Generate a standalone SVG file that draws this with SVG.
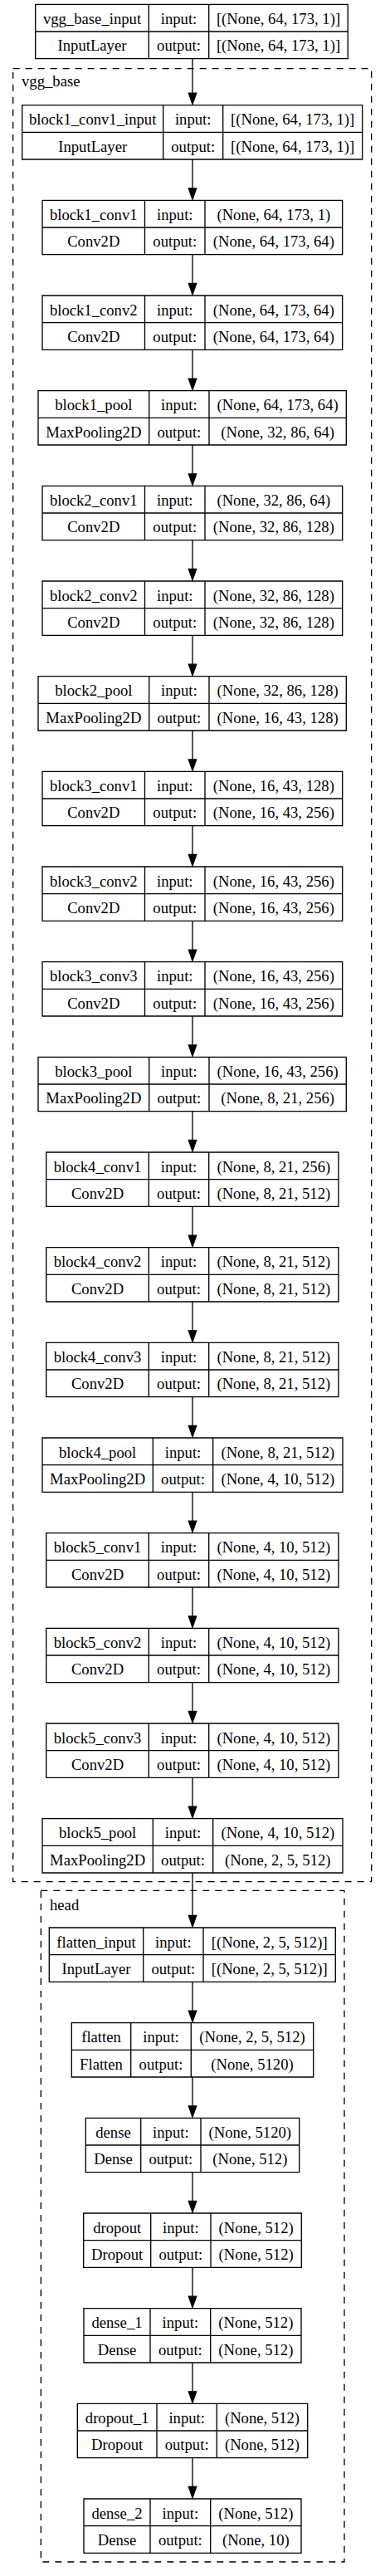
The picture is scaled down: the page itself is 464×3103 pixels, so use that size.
<svg xmlns="http://www.w3.org/2000/svg" width="464" height="3103" viewBox="0 0 464 3103">
<style>
.box{fill:none;stroke:#000;stroke-width:1.33}
.cl{fill:none;stroke:#000;stroke-width:1.33;stroke-dasharray:8,7}
text{font-family:"Liberation Serif","Times New Roman",serif;font-size:18.67px;fill:#000;text-anchor:middle}
.lbl{text-anchor:start}
.edge{fill:none;stroke:#000;stroke-width:1.33}
</style>
<defs>
<marker id="ah" markerUnits="userSpaceOnUse" viewBox="-2 -7 18 14" markerWidth="18" markerHeight="14" refX="0" refY="0" orient="auto" overflow="visible"><path d="M0,-4.67L13.33,0L0,4.67Z" fill="#000" stroke="#000" stroke-width="1.33"/></marker>
</defs>
<rect width="464" height="3103" fill="#fff"/>
<g id="cluster_vgg_base"><rect class="cl" x="15.67" y="82.67" width="432" height="2184"/><text class="lbl" x="26" y="103.5">vgg_base</text></g>
<g id="cluster_head"><rect class="cl" x="49.33" y="2277.33" width="365.67" height="808.67"/><text class="lbl" x="60" y="2301">head</text></g>

<g id="n_vgg_base_input"><path class="box" d="M42.7,5.33H419.3V70.67H42.7ZM42.7,38H419.3M179.3,5.33V70.67M251.7,5.33V70.67"/>
<text x="111" y="29.13">vgg_base_input</text><text x="215.5" y="29.13">input:</text><text x="335.5" y="29.13">[(None, 64, 173, 1)]</text>
<text x="111" y="61.33">InputLayer</text><text x="215.5" y="61.33">output:</text><text x="335.5" y="61.33">[(None, 64, 173, 1)]</text></g>

<g id="n_block1_conv1_input"><path class="box" d="M26.7,126.67H436.7V192H26.7ZM26.7,159.33H436.7M196.7,126.67V192M268.7,126.67V192"/>
<text x="111.7" y="150.47">block1_conv1_input</text><text x="232.7" y="150.47">input:</text><text x="352.7" y="150.47">[(None, 64, 173, 1)]</text>
<text x="111.7" y="182.67">InputLayer</text><text x="232.7" y="182.67">output:</text><text x="352.7" y="182.67">[(None, 64, 173, 1)]</text></g>

<g id="n_block1_conv1"><path class="box" d="M51,241.33H412.7V306.67H51ZM51,274H412.7M174.5,241.33V306.67M247,241.33V306.67"/>
<text x="112.75" y="265.13">block1_conv1</text><text x="210.75" y="265.13">input:</text><text x="329.85" y="265.13">(None, 64, 173, 1)</text>
<text x="112.75" y="297.33">Conv2D</text><text x="210.75" y="297.33">output:</text><text x="329.85" y="297.33">(None, 64, 173, 64)</text></g>

<g id="n_block1_conv2"><path class="box" d="M51,356H412.7V421.33H51ZM51,388.67H412.7M174.5,356V421.33M247,356V421.33"/>
<text x="112.75" y="379.8">block1_conv2</text><text x="210.75" y="379.8">input:</text><text x="329.85" y="379.8">(None, 64, 173, 64)</text>
<text x="112.75" y="412">Conv2D</text><text x="210.75" y="412">output:</text><text x="329.85" y="412">(None, 64, 173, 64)</text></g>

<g id="n_block1_pool"><path class="box" d="M46,470.67H417.3V536H46ZM46,503.33H417.3M179.7,470.67V536M252,470.67V536"/>
<text x="112.85" y="494.47">block1_pool</text><text x="215.85" y="494.47">input:</text><text x="334.65" y="494.47">(None, 64, 173, 64)</text>
<text x="112.85" y="526.67">MaxPooling2D</text><text x="215.85" y="526.67">output:</text><text x="334.65" y="526.67">(None, 32, 86, 64)</text></g>

<g id="n_block2_conv1"><path class="box" d="M51,585.33H412.7V650.67H51ZM51,618H412.7M174.5,585.33V650.67M247,585.33V650.67"/>
<text x="112.75" y="609.13">block2_conv1</text><text x="210.75" y="609.13">input:</text><text x="329.85" y="609.13">(None, 32, 86, 64)</text>
<text x="112.75" y="641.33">Conv2D</text><text x="210.75" y="641.33">output:</text><text x="329.85" y="641.33">(None, 32, 86, 128)</text></g>

<g id="n_block2_conv2"><path class="box" d="M51,700H412.7V765.33H51ZM51,732.67H412.7M174.5,700V765.33M247,700V765.33"/>
<text x="112.75" y="723.8">block2_conv2</text><text x="210.75" y="723.8">input:</text><text x="329.85" y="723.8">(None, 32, 86, 128)</text>
<text x="112.75" y="756">Conv2D</text><text x="210.75" y="756">output:</text><text x="329.85" y="756">(None, 32, 86, 128)</text></g>

<g id="n_block2_pool"><path class="box" d="M46,814.67H417.3V880H46ZM46,847.33H417.3M179.7,814.67V880M252,814.67V880"/>
<text x="112.85" y="838.47">block2_pool</text><text x="215.85" y="838.47">input:</text><text x="334.65" y="838.47">(None, 32, 86, 128)</text>
<text x="112.85" y="870.67">MaxPooling2D</text><text x="215.85" y="870.67">output:</text><text x="334.65" y="870.67">(None, 16, 43, 128)</text></g>

<g id="n_block3_conv1"><path class="box" d="M51,929.33H412.7V994.67H51ZM51,962H412.7M174.5,929.33V994.67M247,929.33V994.67"/>
<text x="112.75" y="953.13">block3_conv1</text><text x="210.75" y="953.13">input:</text><text x="329.85" y="953.13">(None, 16, 43, 128)</text>
<text x="112.75" y="985.33">Conv2D</text><text x="210.75" y="985.33">output:</text><text x="329.85" y="985.33">(None, 16, 43, 256)</text></g>

<g id="n_block3_conv2"><path class="box" d="M51,1044H412.7V1109.33H51ZM51,1076.67H412.7M174.5,1044V1109.33M247,1044V1109.33"/>
<text x="112.75" y="1067.8">block3_conv2</text><text x="210.75" y="1067.8">input:</text><text x="329.85" y="1067.8">(None, 16, 43, 256)</text>
<text x="112.75" y="1100">Conv2D</text><text x="210.75" y="1100">output:</text><text x="329.85" y="1100">(None, 16, 43, 256)</text></g>

<g id="n_block3_conv3"><path class="box" d="M51,1158.67H412.7V1224H51ZM51,1191.33H412.7M174.5,1158.67V1224M247,1158.67V1224"/>
<text x="112.75" y="1182.47">block3_conv3</text><text x="210.75" y="1182.47">input:</text><text x="329.85" y="1182.47">(None, 16, 43, 256)</text>
<text x="112.75" y="1214.67">Conv2D</text><text x="210.75" y="1214.67">output:</text><text x="329.85" y="1214.67">(None, 16, 43, 256)</text></g>

<g id="n_block3_pool"><path class="box" d="M46,1273.33H417.3V1338.67H46ZM46,1306H417.3M179.7,1273.33V1338.67M252,1273.33V1338.67"/>
<text x="112.85" y="1297.13">block3_pool</text><text x="215.85" y="1297.13">input:</text><text x="334.65" y="1297.13">(None, 16, 43, 256)</text>
<text x="112.85" y="1329.33">MaxPooling2D</text><text x="215.85" y="1329.33">output:</text><text x="334.65" y="1329.33">(None, 8, 21, 256)</text></g>

<g id="n_block4_conv1"><path class="box" d="M55.7,1388H408V1453.33H55.7ZM55.7,1420.67H408M179.3,1388V1453.33M251.7,1388V1453.33"/>
<text x="117.5" y="1411.8">block4_conv1</text><text x="215.5" y="1411.8">input:</text><text x="329.85" y="1411.8">(None, 8, 21, 256)</text>
<text x="117.5" y="1444">Conv2D</text><text x="215.5" y="1444">output:</text><text x="329.85" y="1444">(None, 8, 21, 512)</text></g>

<g id="n_block4_conv2"><path class="box" d="M55.7,1502.67H408V1568H55.7ZM55.7,1535.33H408M179.3,1502.67V1568M251.7,1502.67V1568"/>
<text x="117.5" y="1526.47">block4_conv2</text><text x="215.5" y="1526.47">input:</text><text x="329.85" y="1526.47">(None, 8, 21, 512)</text>
<text x="117.5" y="1558.67">Conv2D</text><text x="215.5" y="1558.67">output:</text><text x="329.85" y="1558.67">(None, 8, 21, 512)</text></g>

<g id="n_block4_conv3"><path class="box" d="M55.7,1617.33H408V1682.67H55.7ZM55.7,1650H408M179.3,1617.33V1682.67M251.7,1617.33V1682.67"/>
<text x="117.5" y="1641.13">block4_conv3</text><text x="215.5" y="1641.13">input:</text><text x="329.85" y="1641.13">(None, 8, 21, 512)</text>
<text x="117.5" y="1673.33">Conv2D</text><text x="215.5" y="1673.33">output:</text><text x="329.85" y="1673.33">(None, 8, 21, 512)</text></g>

<g id="n_block4_pool"><path class="box" d="M51,1732H413V1797.33H51ZM51,1764.67H413M184.3,1732V1797.33M256.7,1732V1797.33"/>
<text x="117.65" y="1755.8">block4_pool</text><text x="220.5" y="1755.8">input:</text><text x="334.85" y="1755.8">(None, 8, 21, 512)</text>
<text x="117.65" y="1788">MaxPooling2D</text><text x="220.5" y="1788">output:</text><text x="334.85" y="1788">(None, 4, 10, 512)</text></g>

<g id="n_block5_conv1"><path class="box" d="M55.7,1846.67H408V1912H55.7ZM55.7,1879.33H408M179.3,1846.67V1912M251.7,1846.67V1912"/>
<text x="117.5" y="1870.47">block5_conv1</text><text x="215.5" y="1870.47">input:</text><text x="329.85" y="1870.47">(None, 4, 10, 512)</text>
<text x="117.5" y="1902.67">Conv2D</text><text x="215.5" y="1902.67">output:</text><text x="329.85" y="1902.67">(None, 4, 10, 512)</text></g>

<g id="n_block5_conv2"><path class="box" d="M55.7,1961.33H408V2026.67H55.7ZM55.7,1994H408M179.3,1961.33V2026.67M251.7,1961.33V2026.67"/>
<text x="117.5" y="1985.13">block5_conv2</text><text x="215.5" y="1985.13">input:</text><text x="329.85" y="1985.13">(None, 4, 10, 512)</text>
<text x="117.5" y="2017.33">Conv2D</text><text x="215.5" y="2017.33">output:</text><text x="329.85" y="2017.33">(None, 4, 10, 512)</text></g>

<g id="n_block5_conv3"><path class="box" d="M55.7,2076H408V2141.33H55.7ZM55.7,2108.67H408M179.3,2076V2141.33M251.7,2076V2141.33"/>
<text x="117.5" y="2099.8">block5_conv3</text><text x="215.5" y="2099.8">input:</text><text x="329.85" y="2099.8">(None, 4, 10, 512)</text>
<text x="117.5" y="2132">Conv2D</text><text x="215.5" y="2132">output:</text><text x="329.85" y="2132">(None, 4, 10, 512)</text></g>

<g id="n_block5_pool"><path class="box" d="M51,2190.67H413V2256H51ZM51,2223.33H413M184.3,2190.67V2256M256.7,2190.67V2256"/>
<text x="117.65" y="2214.47">block5_pool</text><text x="220.5" y="2214.47">input:</text><text x="334.85" y="2214.47">(None, 4, 10, 512)</text>
<text x="117.65" y="2246.67">MaxPooling2D</text><text x="220.5" y="2246.67">output:</text><text x="334.85" y="2246.67">(None, 2, 5, 512)</text></g>

<g id="n_flatten_input"><path class="box" d="M59.3,2322H404.3V2387.33H59.3ZM59.3,2354.67H404.3M172.7,2322V2387.33M245,2322V2387.33"/>
<text x="116" y="2345.8">flatten_input</text><text x="208.85" y="2345.8">input:</text><text x="324.65" y="2345.8">[(None, 2, 5, 512)]</text>
<text x="116" y="2378">InputLayer</text><text x="208.85" y="2378">output:</text><text x="324.65" y="2378">[(None, 2, 5, 512)]</text></g>

<g id="n_flatten"><path class="box" d="M86.3,2436.67H377.7V2502H86.3ZM86.3,2469.33H377.7M157.7,2436.67V2502M230.3,2436.67V2502"/>
<text x="122" y="2460.47">flatten</text><text x="194" y="2460.47">input:</text><text x="304" y="2460.47">(None, 2, 5, 512)</text>
<text x="122" y="2492.67">Flatten</text><text x="194" y="2492.67">output:</text><text x="304" y="2492.67">(None, 5120)</text></g>

<g id="n_dense"><path class="box" d="M103.3,2551.33H360.7V2616.67H103.3ZM103.3,2584H360.7M169.7,2551.33V2616.67M242,2551.33V2616.67"/>
<text x="136.5" y="2575.13">dense</text><text x="205.85" y="2575.13">input:</text><text x="301.35" y="2575.13">(None, 5120)</text>
<text x="136.5" y="2607.33">Dense</text><text x="205.85" y="2607.33">output:</text><text x="301.35" y="2607.33">(None, 512)</text></g>

<g id="n_dropout"><path class="box" d="M100.7,2666H363.3V2731.33H100.7ZM100.7,2698.67H363.3M181.7,2666V2731.33M254,2666V2731.33"/>
<text x="141.2" y="2689.8">dropout</text><text x="217.85" y="2689.8">input:</text><text x="308.65" y="2689.8">(None, 512)</text>
<text x="141.2" y="2722">Dropout</text><text x="217.85" y="2722">output:</text><text x="308.65" y="2722">(None, 512)</text></g>

<g id="n_dense_1"><path class="box" d="M101,2780.67H363V2846H101ZM101,2813.33H363M181,2780.67V2846M253.7,2780.67V2846"/>
<text x="141" y="2804.47">dense_1</text><text x="217.35" y="2804.47">input:</text><text x="308.35" y="2804.47">(None, 512)</text>
<text x="141" y="2836.67">Dense</text><text x="217.35" y="2836.67">output:</text><text x="308.35" y="2836.67">(None, 512)</text></g>

<g id="n_dropout_1"><path class="box" d="M93.3,2895.33H370.7V2960.67H93.3ZM93.3,2928H370.7M189,2895.33V2960.67M261.3,2895.33V2960.67"/>
<text x="141.15" y="2919.13">dropout_1</text><text x="225.15" y="2919.13">input:</text><text x="316" y="2919.13">(None, 512)</text>
<text x="141.15" y="2951.33">Dropout</text><text x="225.15" y="2951.33">output:</text><text x="316" y="2951.33">(None, 512)</text></g>

<g id="n_dense_2"><path class="box" d="M101,3010H363V3075.33H101ZM101,3042.67H363M181,3010V3075.33M253.7,3010V3075.33"/>
<text x="141" y="3033.8">dense_2</text><text x="217.35" y="3033.8">input:</text><text x="308.35" y="3033.8">(None, 512)</text>
<text x="141" y="3066">Dense</text><text x="217.35" y="3066">output:</text><text x="308.35" y="3066">(None, 10)</text></g>

<g id="connectors" class="edge" marker-end="url(#ah)">
<path class="edge" marker-end="url(#ah)" d="M232,70.67V112.17"/>
<path class="edge" marker-end="url(#ah)" d="M232,192V226.83"/>
<path class="edge" marker-end="url(#ah)" d="M232,306.67V341.5"/>
<path class="edge" marker-end="url(#ah)" d="M232,421.33V456.17"/>
<path class="edge" marker-end="url(#ah)" d="M232,536V570.83"/>
<path class="edge" marker-end="url(#ah)" d="M232,650.67V685.5"/>
<path class="edge" marker-end="url(#ah)" d="M232,765.33V800.17"/>
<path class="edge" marker-end="url(#ah)" d="M232,880V914.83"/>
<path class="edge" marker-end="url(#ah)" d="M232,994.67V1029.5"/>
<path class="edge" marker-end="url(#ah)" d="M232,1109.33V1144.17"/>
<path class="edge" marker-end="url(#ah)" d="M232,1224V1258.83"/>
<path class="edge" marker-end="url(#ah)" d="M232,1338.67V1373.5"/>
<path class="edge" marker-end="url(#ah)" d="M232,1453.33V1488.17"/>
<path class="edge" marker-end="url(#ah)" d="M232,1568V1602.83"/>
<path class="edge" marker-end="url(#ah)" d="M232,1682.67V1717.5"/>
<path class="edge" marker-end="url(#ah)" d="M232,1797.33V1832.17"/>
<path class="edge" marker-end="url(#ah)" d="M232,1912V1946.83"/>
<path class="edge" marker-end="url(#ah)" d="M232,2026.67V2061.5"/>
<path class="edge" marker-end="url(#ah)" d="M232,2141.33V2176.17"/>
<path class="edge" marker-end="url(#ah)" d="M232,2256V2307.5"/>
<path class="edge" marker-end="url(#ah)" d="M232,2387.33V2422.17"/>
<path class="edge" marker-end="url(#ah)" d="M232,2502V2536.83"/>
<path class="edge" marker-end="url(#ah)" d="M232,2616.67V2651.5"/>
<path class="edge" marker-end="url(#ah)" d="M232,2731.33V2766.17"/>
<path class="edge" marker-end="url(#ah)" d="M232,2846V2880.83"/>
<path class="edge" marker-end="url(#ah)" d="M232,2960.67V2995.5"/>
</g>
</svg>
